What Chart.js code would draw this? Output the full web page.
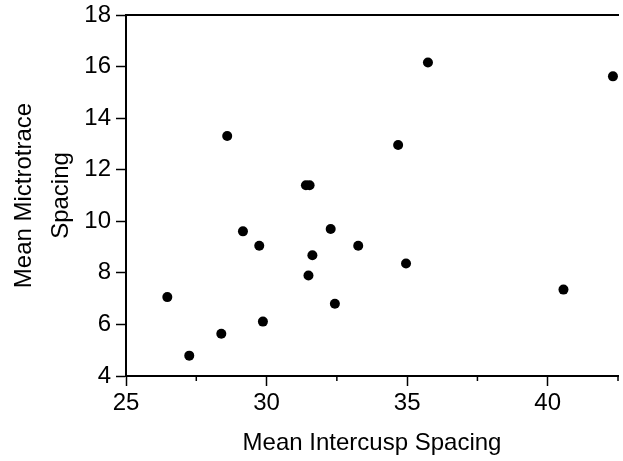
<!DOCTYPE html>
<html>
<head>
<meta charset="utf-8">
<script src="https://cdn.jsdelivr.net/npm/chart.js@4.4.0/dist/chart.umd.min.js"></script>
<style>
  html, body { margin: 0; padding: 0; background: #fff; }
</style>
</head>
<body>
<canvas id="Graph1" width="623" height="461"></canvas>
<script>
// values
const intercusp = [28.60, 35.74, 42.32, 34.68, 31.40, 31.53, 29.16, 32.28, 29.74, 33.26,
                   31.63, 34.96, 31.49, 26.47, 27.25, 28.39, 29.87, 32.43, 40.56];
const microtrace = [13.31, 16.16, 15.62, 12.96, 11.40, 11.40, 9.61, 9.70, 9.05, 9.05,
                    8.68, 8.36, 7.90, 7.06, 4.79, 5.64, 6.11, 6.80, 7.35];
const xTicks = [25, 30, 35, 40];
const xMinorTicks = [27.5, 32.5, 37.5, 42.5];
const yTicks = [4, 6, 8, 10, 12, 14, 16, 18];

let points = [];
intercusp.forEach((v, i) => points.push({x: v, y: microtrace[i]}));

const family = "'Liberation Sans', Arial, sans-serif";
Chart.defaults.color = '#000';

// short minor ticks under the x axis
const minorTicks = {
    id: 'minorTicks',
    afterDraw(chart) {
        const ctx = chart.ctx;
        const x = chart.scales.x;
        ctx.save();
        ctx.strokeStyle = '#000';
        ctx.lineWidth = 1.5;
        xMinorTicks.forEach(v => {
            const px = Math.min(x.getPixelForValue(v), chart.width - 1);
            ctx.beginPath();
            ctx.moveTo(px, x.top);
            ctx.lineTo(px, x.top + 5);
            ctx.stroke();
        });
        ctx.restore();
    }
};

new Chart(document.getElementById('Graph1'), {
    type: 'scatter',
    data: {
        datasets: [{
            data: points,
            backgroundColor: '#000',
            borderWidth: 0,
            pointRadius: 5,
            pointHoverRadius: 5
        }]
    },
    options: {
        responsive: false,
        animation: false,
        layout: {padding: 0},
        plugins: {legend: {display: false}, tooltip: {enabled: false}},
        scales: {
            x: {
                type: 'linear',
                min: 25,
                max: 42.5,
                afterBuildTicks: s => { s.ticks = xTicks.map(v => ({value: v})); },
                afterFit: s => { s.height = 85; },
                ticks: {font: {family: family, size: 24}, padding: 3, maxRotation: 0},
                grid: {drawOnChartArea: false, tickLength: 10, tickWidth: 1.5, tickColor: '#000'},
                border: {display: true, color: '#000', width: 2},
                title: {display: true, text: 'Mean Intercusp Spacing',
                        font: {family: family, size: 24, lineHeight: 1.2}, padding: {top: 0, bottom: 3}}
            },
            x2: {
                type: 'linear',
                position: 'top',
                min: 25,
                max: 42.5,
                afterFit: s => { s.height = 15; },
                ticks: {display: false},
                grid: {display: false},
                border: {display: true, color: '#000', width: 2}
            },
            y: {
                min: 4,
                max: 18,
                afterBuildTicks: s => { s.ticks = yTicks.map(v => ({value: v})); },
                afterFit: s => { s.width = 126; s.paddingTop = 0; s.paddingBottom = 0; },
                ticks: {font: {family: family, size: 24, lineHeight: 1.0}, padding: 5},
                grid: {drawOnChartArea: false, tickLength: 10, tickWidth: 1.5, tickColor: '#000'},
                border: {display: true, color: '#000', width: 2},
                title: {display: true, text: ['Mean Mictrotrace', 'Spacing'],
                        font: {family: family, size: 24, lineHeight: 1.55}, padding: {top: 6, bottom: 0}}
            }
        }
    },
    plugins: [minorTicks]
});
</script>
</body>
</html>
